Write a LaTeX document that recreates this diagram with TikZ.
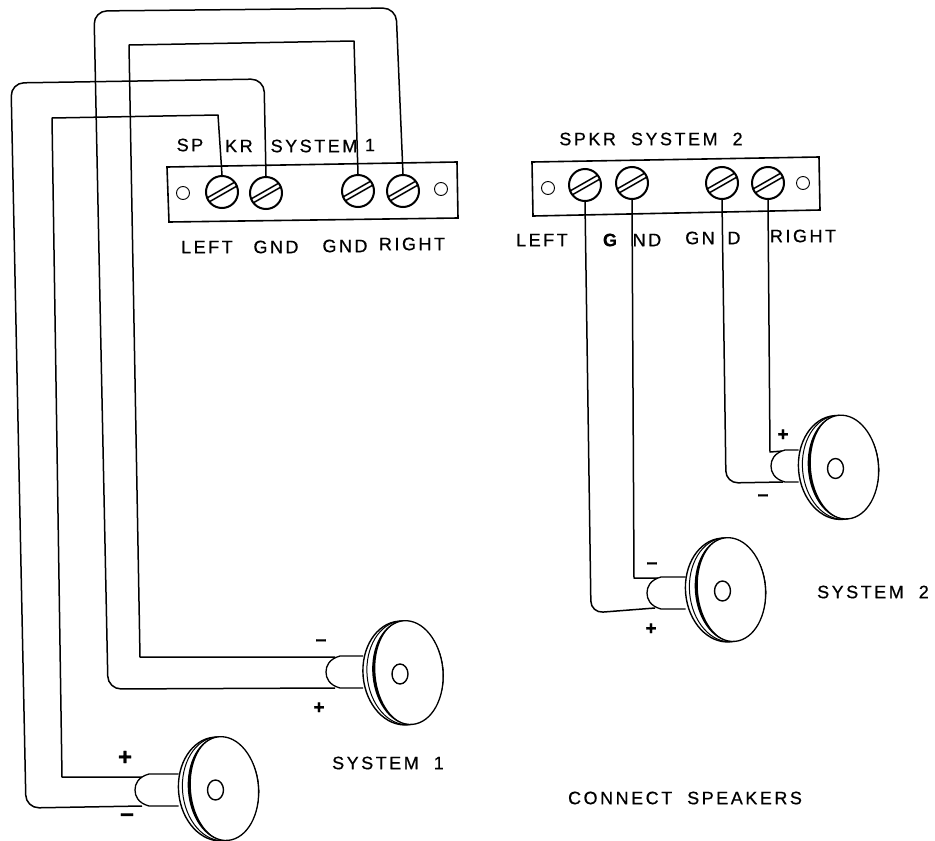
\documentclass[tikz,border=0pt]{standalone}
\usepackage{fontspec}
\setmainfont[LetterSpace=14,FakeBold=0.6]{Liberation Sans}
\tikzset{
  wire/.style={line width=1.5pt, line join=round},
  lbl/.style={font=\fontsize{18}{20}\selectfont, inner sep=0pt},
  sign/.style={font=\fontsize{19}{19}\selectfont\bfseries, inner sep=0pt},
  screw/.style={circle, draw, fill=white, line width=2pt, inner sep=0pt, minimum size=32pt,
    path picture={
      \draw[line width=1.5pt, shift={(path picture bounding box.center)}]
        (-15,6) -- (13,-10) (-13,10) -- (15,-6);
    }},
}
\begin{document}
\begin{tikzpicture}[x=1pt, y=-1pt]
\useasboundingbox (0,0) rectangle (935,841);

\def\spkr#1#2#3#4#5{
  \coordinate (#1t) at (#2-40, #4-16);
  \coordinate (#1b) at (#2-40, #4+16);
  \coordinate (#1nt) at (#5+14, #4-16);
  \coordinate (#1nb) at (#5+14, #4+16);
  \filldraw[fill=white, line width=1.3pt] (#1t) -- (#1nt) .. controls (#5+3,#4-13) and (#5,#4-6) .. (#5,#4)
    .. controls (#5,#4+6) and (#5+3,#4+13) .. (#1nb) -- (#1b);
  \begin{scope}[shift={(#2,#3)}, rotate=5]
    \filldraw[fill=white, line width=1.4pt] (0,0) ellipse [x radius=40, y radius=52];
    \draw[line width=1pt] (2,0) ellipse [x radius=38, y radius=52];
    \filldraw[fill=white, line width=1.3pt] (5,0) ellipse [x radius=35, y radius=52];
    \fill (5,-52) arc [start angle=270, end angle=90, x radius=35, y radius=52]
      arc [start angle=90, end angle=270, x radius=32.5, y radius=52];
  \end{scope}
  \draw[line width=1.4pt] (#2-3,#3+1) ellipse [x radius=8, y radius=10];
}

\filldraw[fill=white, line width=1.6pt] (167,167) -- (457,162) -- (458,218) -- (169,222) -- cycle;
\filldraw[fill=white, line width=1.6pt] (532,162) -- (819,157) -- (820,210) -- (533,216) -- cycle;

\foreach \hx/\hy in {183/193, 441/189, 548/188, 803/183}
  \draw[line width=0.9pt] (\hx,\hy) circle (6.5);

\node[screw] (la) at (222,192) {};
\node[screw] (ga) at (266,193) {};
\node[screw] (gb) at (358,191) {};
\node[screw] (ra) at (403,191) {};

\node[screw] (lc) at (585,185) {};
\node[screw] (gc) at (632,183) {};
\node[screw] (gd) at (722,183) {};
\node[screw] (rd) at (768,183) {};

\draw[wire] (la.north) -- (218,115) -- (52,118) -- (62,777) -- (148,777);
\draw[wire, rounded corners=13pt] (ga.north) -- (264,79) -- (11,83) -- (26,808) -- (142,806);
\draw[wire] (gb.north) -- (354,41) -- (129,45) -- (140,657) -- (335,657);
\draw[wire, rounded corners=13pt] (ra.north) -- (396,8) -- (94,11) -- (108,689) -- (335,688);

\draw[wire, rounded corners=12pt] (lc.south) -- (591,613) -- (655,608);
\draw[wire] (gc.south) -- (634,578) -- (658,578);
\draw[wire, rounded corners=12pt] (gd.south) -- (726,483) -- (783,482);
\draw[wire] (rd.south) -- (770,452) -- (783,451);

\spkr{spa}{403}{673}{672}{326}
\spkr{spb}{218.5}{789}{790}{135}
\spkr{spc}{725.5}{590}{593}{647}
\spkr{spd}{838.5}{467.5}{466}{771}

\node[lbl] (sp) at (190,145) {SP};
\node[lbl] (kr) at (239,146) {KR};
\node[lbl] (sys) at (314,146) {SYSTEM};
\node[lbl] (one) at (370,145) {1};
\node[lbl] (lfta) at (207,247) {LEFT};
\node[lbl] (gnda) at (276,247) {GND};
\node[lbl] (gndb) at (345,246) {GND};
\node[lbl] (rgta) at (412,244) {RIGHT};

\node[lbl] (systwo) at (651,139) {SPKR\ \ SYSTEM\ \ 2};
\node[lbl] (lftc) at (542,240) {LEFT};
\node[lbl] (gg) at (610,240) {\bfseries G};
\node[lbl] (nd) at (647,240) {ND};
\node[lbl] (gn) at (700,238) {GN};
\node[lbl] (dd) at (734,238) {D};
\node[lbl] (rgtc) at (803,236) {RIGHT};

\node[lbl] (capa) at (388,763) {SYSTEM\ \ 1};
\node[lbl] (capb) at (873,592) {SYSTEM\ \ 2};
\node[lbl] (capc) at (685,798) {CONNECT\ \ SPEAKERS};

\node[sign] (ma) at (321,643) {−};
\node[sign] (pa) at (319,708) {+};
\node[sign, font=\fontsize{24}{24}\selectfont\bfseries] (pb) at (125,758) {+};
\node[sign, font=\fontsize{24}{24}\selectfont\bfseries] (mb) at (127,818) {−};
\node[sign] (mc) at (652,566) {−};
\node[sign] (pc) at (651,629) {+};
\node[sign] (pd) at (783,435) {+};
\node[sign] (md) at (763,498) {−};

\end{tikzpicture}
\end{document}
